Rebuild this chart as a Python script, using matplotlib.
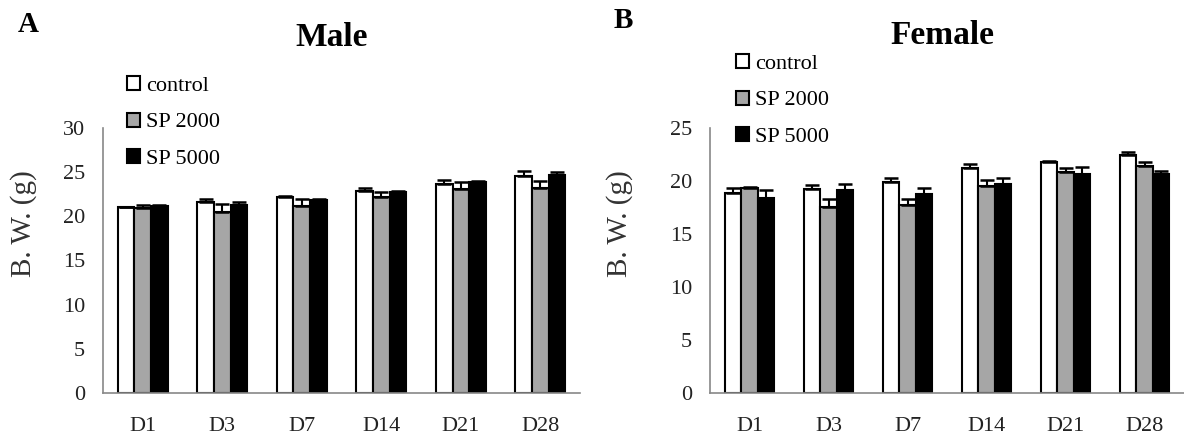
import matplotlib.pyplot as plt
import numpy as np

days = ['D1', 'D3', 'D7', 'D14', 'D21', 'D28']
groups = ['control', 'SP 2000', 'SP 5000']

# Male body weight (g) and upper error
male_control = [21.0, 21.6, 22.2, 22.8, 23.7, 24.6]
male_sp2000 = [20.9, 20.5, 21.2, 22.2, 23.1, 23.25]
male_sp5000 = [21.2, 21.25, 21.85, 22.7, 23.85, 24.65]
male_control_err = [0.1, 0.4, 0.1, 0.4, 0.4, 0.5]
male_sp2000_err = [0.4, 0.85, 0.7, 0.55, 0.75, 0.7]
male_sp5000_err = [0.1, 0.4, 0.1, 0.1, 0.1, 0.4]

# Female body weight (g) and upper error
female_control = [18.9, 19.25, 19.9, 21.2, 21.8, 22.45]
female_sp2000 = [19.3, 17.5, 17.7, 19.5, 20.8, 21.45]
female_sp5000 = [18.4, 19.1, 18.8, 19.7, 20.65, 20.65]
female_control_err = [0.4, 0.4, 0.4, 0.4, 0.1, 0.3]
female_sp2000_err = [0.1, 0.8, 0.55, 0.55, 0.4, 0.3]
female_sp5000_err = [0.7, 0.6, 0.5, 0.55, 0.7, 0.3]

colors = ['white', '#a6a6a6', 'black']

plt.rcParams['font.family'] = ['Liberation Serif', 'DejaVu Serif']

fig = plt.figure(figsize=(11.84, 4.41), dpi=100)
ax1 = fig.add_axes([0.087, 0.109, 0.403, 0.601])
ax2 = fig.add_axes([0.5997, 0.109, 0.4003, 0.601])


def draw(ax, data, errs, ymax, legend_xy):
    x = np.arange(len(days))
    w = 0.21
    handles = []
    for i, (vals, err) in enumerate(zip(data, errs)):
        b = ax.bar(x + (i - 1) * w, vals, w, color=colors[i], edgecolor='black',
                   linewidth=1.5, label=groups[i],
                   yerr=[np.zeros(len(err)), err],
                   error_kw=dict(ecolor='black', elinewidth=1.5, capsize=5, capthick=1.8))
        handles.append(b)
    ax.set_xlim(-0.5, 5.5)
    ax.set_ylim(0, ymax)
    ax.set_yticks(np.arange(0, ymax + 1, 5))
    ax.set_xticks(x)
    ax.set_xticklabels(days)
    ax.tick_params(length=0, labelsize=16, labelcolor='#222222')
    ax.tick_params(axis='y', pad=13)
    ax.tick_params(axis='x', pad=17)
    for s in ['top', 'right']:
        ax.spines[s].set_visible(False)
    for s in ['left', 'bottom']:
        ax.spines[s].set_color('#888888')
        ax.spines[s].set_linewidth(1.2)
    ax.set_ylabel('B. W. (g)', fontsize=21, color='#333333')
    fig.legend(handles=handles, labels=groups, loc='upper left',
               bbox_to_anchor=legend_xy, frameon=False, fontsize=16,
               handlelength=0.6, handleheight=0.6, handletextpad=0.25,
               labelspacing=0.75, borderaxespad=0, borderpad=0)


draw(ax1, [male_control, male_sp2000, male_sp5000],
     [male_control_err, male_sp2000_err, male_sp5000_err], 30,
     (127 / 1184, 1 - 76 / 441))
draw(ax2, [female_control, female_sp2000, female_sp5000],
     [female_control_err, female_sp2000_err, female_sp5000_err], 25,
     (736 / 1184, 1 - 54 / 441))

ax1.yaxis.set_label_coords(-0.138, 0.64)
ax2.yaxis.set_label_coords(-0.162, 0.64)

fig.text(28 / 1184, 1 - 24 / 441, 'A', fontsize=21, fontweight='bold', ha='center', va='center')
fig.text(623 / 1184, 1 - 20 / 441, 'B', fontsize=21, fontweight='bold', ha='center', va='center')
fig.text(332 / 1184, 1 - 38 / 441, 'Male', fontsize=24, fontweight='bold', ha='center', va='center')
fig.text(942 / 1184, 1 - 35 / 441, 'Female', fontsize=24, fontweight='bold', ha='center', va='center')

plt.savefig('out.png', dpi=100)
